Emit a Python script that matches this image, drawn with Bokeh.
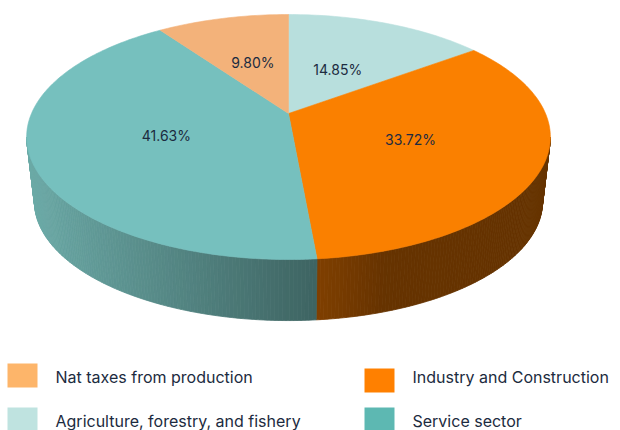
import numpy as np
from bokeh.plotting import figure
from bokeh.models import Range1d
from bokeh.embed import file_html
from bokeh.resources import INLINE
from bokeh.core.properties import value

# ---- data ----
categories = ["Agriculture, forestry, and fishery", "Industry and Construction",
              "Service sector", "Nat taxes from production"]
shares = [14.85, 33.72, 41.63, 9.80]
labels = ["14.85%", "33.72%", "41.63%", "9.80%"]
top_colors = ["#B8DFDD", "#FA8000", "#76C0BE", "#F3B27A"]
legend_colors = ["#BFE3E0", "#FF8000", "#5DB8B2", "#FDB56A"]
side_left = [(150, 200, 198), (128, 64, 0), (108, 170, 167), (200, 140, 90)]
side_right = [(110, 150, 148), (102, 51, 0), (62, 100, 98), (160, 110, 70)]
side_ramp = [1.0, 0.3, 1.0, 1.0]
legend_order = [3, 1, 0, 2]

# ---- projection (perspective disk) ----
CX, CY, A, B, E = 288.0, 113.0, 257.0, 118.0, 0.192
DEPTH, SB = 65.4, 0.97
TEXT = "#1C2B40"
FONT = "Inter"
W, H = 620, 430


def proj(theta, r=1.0, bottom=False):
    th = np.radians(theta)
    u = r * np.sin(th)
    v = -r * np.cos(th)
    w = 1 - E * v
    s = SB if bottom else 1.0
    return CX + s * A * u / w, CY + (DEPTH if bottom else 0.0) + s * B * v / w


p = figure(width=W, height=H, output_backend="svg", toolbar_location=None,
           x_range=Range1d(0, W), y_range=Range1d(H, 0), min_border=0)
p.axis.visible = False
p.grid.visible = False
p.outline_line_color = None

cum = np.concatenate([[0], np.cumsum(shares)]) / sum(shares) * 360.0
vis_lo, vis_hi = 180 - np.degrees(np.arccos(E)), 180 + np.degrees(np.arccos(E))

# side strips
xs, ys, cols = [], [], []
for i in range(len(shares)):
    a0, a1 = max(cum[i], vis_lo), min(cum[i + 1], vis_hi)
    if a1 <= a0:
        continue
    n = max(2, int((a1 - a0) / 0.7))
    ang = np.linspace(a0, a1, n + 1)
    xl, _ = proj(a1)
    xr, _ = proj(a0)
    xmin, xmax = min(xl, xr), max(xl, xr)
    for k in range(n):
        t0x, t0y = proj(ang[k])
        t1x, t1y = proj(ang[k + 1])
        b1x, b1y = proj(ang[k + 1], bottom=True)
        b0x, b0y = proj(ang[k], bottom=True)
        xm = (t0x + t1x) / 2
        t = (xm - xmin) / (xmax - xmin) if xmax > xmin else 0
        t = min(1.0, t / side_ramp[i])
        c = tuple(int(side_left[i][j] + (side_right[i][j] - side_left[i][j]) * t) for j in range(3))
        xs.append([t0x, t1x, b1x, b0x])
        ys.append([t0y, t1y, b1y, b0y])
        cols.append("#%02x%02x%02x" % c)
p.patches(xs, ys, fill_color=cols, line_color=cols, line_width=0.8)

# top face
txs, tys = [], []
for i in range(len(shares)):
    ang = np.linspace(cum[i], cum[i + 1], max(3, int((cum[i + 1] - cum[i]) / 1.0)))
    ax, ay = proj(ang)
    txs.append([CX] + list(ax))
    tys.append([CY] + list(ay))
p.patches(txs, tys, fill_color=top_colors, line_color=top_colors, line_width=0.6)

# labels
label_r = [0.46, 0.5, 0.49, 0.5]
lx, ly = [], []
for i in range(len(shares)):
    mid = (cum[i] + cum[i + 1]) / 2
    x, y = proj(mid, label_r[i])
    lx.append(x)
    ly.append(y + 1)
p.text(lx, ly, text=labels, text_align="center", text_baseline="middle",
       text_font=value(FONT), text_font_size="14px", text_color=TEXT)

# legend
col_x = [7, 364]
row_y = [375, 419]
text_dx = 48
for slot, idx in enumerate(legend_order):
    c, r = slot % 2, slot // 2
    sy = row_y[r] + (5 if (c == 1 and r == 0) else 0)
    p.rect(x=[col_x[c] + 15], y=[sy], width=30, height=24,
           fill_color=legend_colors[idx], line_color=None)
    p.text(x=[col_x[c] + text_dx], y=[row_y[r] + 1], text=[categories[idx]],
           text_align="left", text_baseline="middle", text_font=value(FONT),
           text_font_size="16px", text_color=TEXT)

open("out.html", "w").write(file_html(p, INLINE))
